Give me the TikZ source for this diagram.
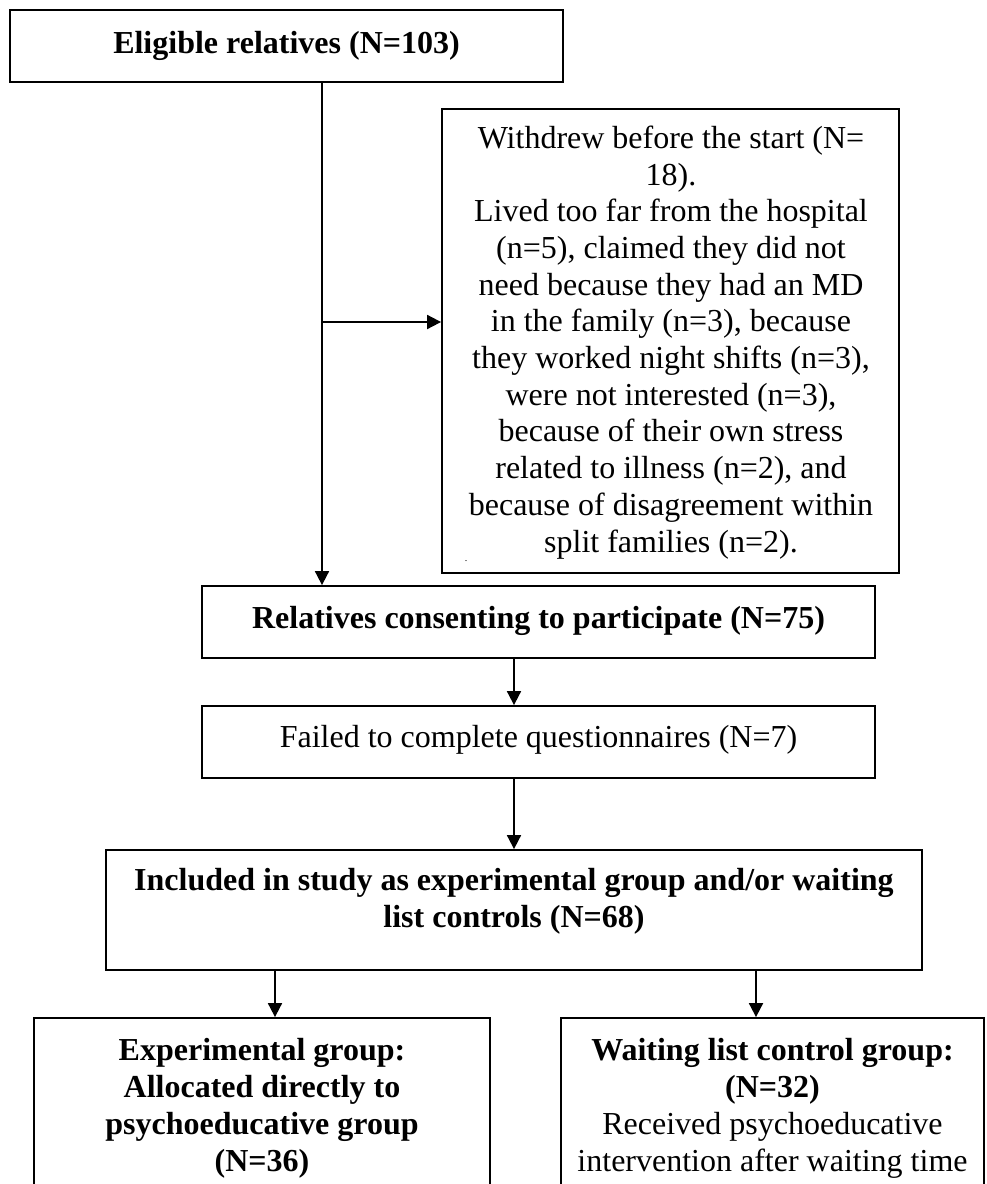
\documentclass[tikz,border=0pt]{standalone}
\usepackage{fontspec}
\setmainfont{Liberation Serif}
\usetikzlibrary{arrows.meta}
\begin{document}
\begin{tikzpicture}[x=0.5pt,y=-0.5pt,
  box/.style={draw=black, line width=0.9pt, inner sep=0pt},
  txt/.style={font=\fontsize{16}{18.35}\selectfont, inner sep=0pt, anchor=base, align=center},
  btxt/.style={txt, font=\fontsize{16}{18.35}\selectfont\bfseries},
  arr/.style={-{Triangle[length=7pt,width=7pt]}, line width=0.9pt}]
\useasboundingbox (0,0) rectangle (986,1184);
\clip (0,0) rectangle (986,1184);
% boxes
\node[box, minimum width=276.5pt, minimum height=36pt] (elig) at (286.5,46) {};
\node[box, minimum width=228.5pt, minimum height=232pt] (withd) at (670.5,341) {};
\node[box, minimum width=336.5pt, minimum height=36pt] (rel) at (538.5,622) {};
\node[box, minimum width=336.5pt, minimum height=36pt] (fail) at (538.5,742) {};
\node[box, minimum width=408pt, minimum height=60pt] (incl) at (514,910) {};
\node[box, minimum width=228pt, minimum height=101pt] (exp) at (262,1119) {};
\node[box, minimum width=211.5pt, minimum height=101pt] (wait) at (772.5,1119) {};
% texts (anchor=base is the baseline of the last line)
\node[btxt] (eligt) at (286.5,53) {Eligible relatives (N=103)};
\node[txt] (withdt) at (671,552) {Withdrew before the start (N=\\18).\\Lived too far from the hospital\\(n=5), claimed they did not\\need because they had an MD\\in the family (n=3), because\\they worked night shifts (n=3),\\were not interested (n=3),\\because of their own stress\\related to illness (n=2), and\\because of disagreement within\\split families (n=2).};
\node[inner sep=0pt, font=\fontsize{5}{5}\selectfont] (dot) at (466,561) {.};
\node[btxt] (relt) at (538.5,628) {Relatives consenting to participate (N=75)};
\node[txt] (failt) at (538.5,747) {Failed to complete questionnaires (N=7)};
\node[btxt] (inclt) at (514,927) {Included in study as experimental group and/or waiting\\list controls (N=68)};
\node[btxt] (expt) at (262,1171) {Experimental group:\\Allocated directly to\\psychoeducative group\\(N=36)};
\node[txt] (waitt) at (772.5,1171) {\textbf{Waiting list control group:}\\\textbf{(N=32)}\\Received psychoeducative\\intervention after waiting time};
% connectors
\coordinate (v) at (322,322);
\coordinate (ax) at (514,700);
\coordinate (b1) at (275,1000);
\coordinate (b2) at (756,1000);
\draw[arr] (elig.south -| v) -- (rel.north -| v);
\draw[arr] (v) -- (v -| withd.west);
\draw[arr] (rel.south -| ax) -- (fail.north -| ax);
\draw[arr] (fail.south -| ax) -- (incl.north -| ax);
\draw[arr] (incl.south -| b1) -- (exp.north -| b1);
\draw[arr] (incl.south -| b2) -- (wait.north -| b2);
\end{tikzpicture}
\end{document}
